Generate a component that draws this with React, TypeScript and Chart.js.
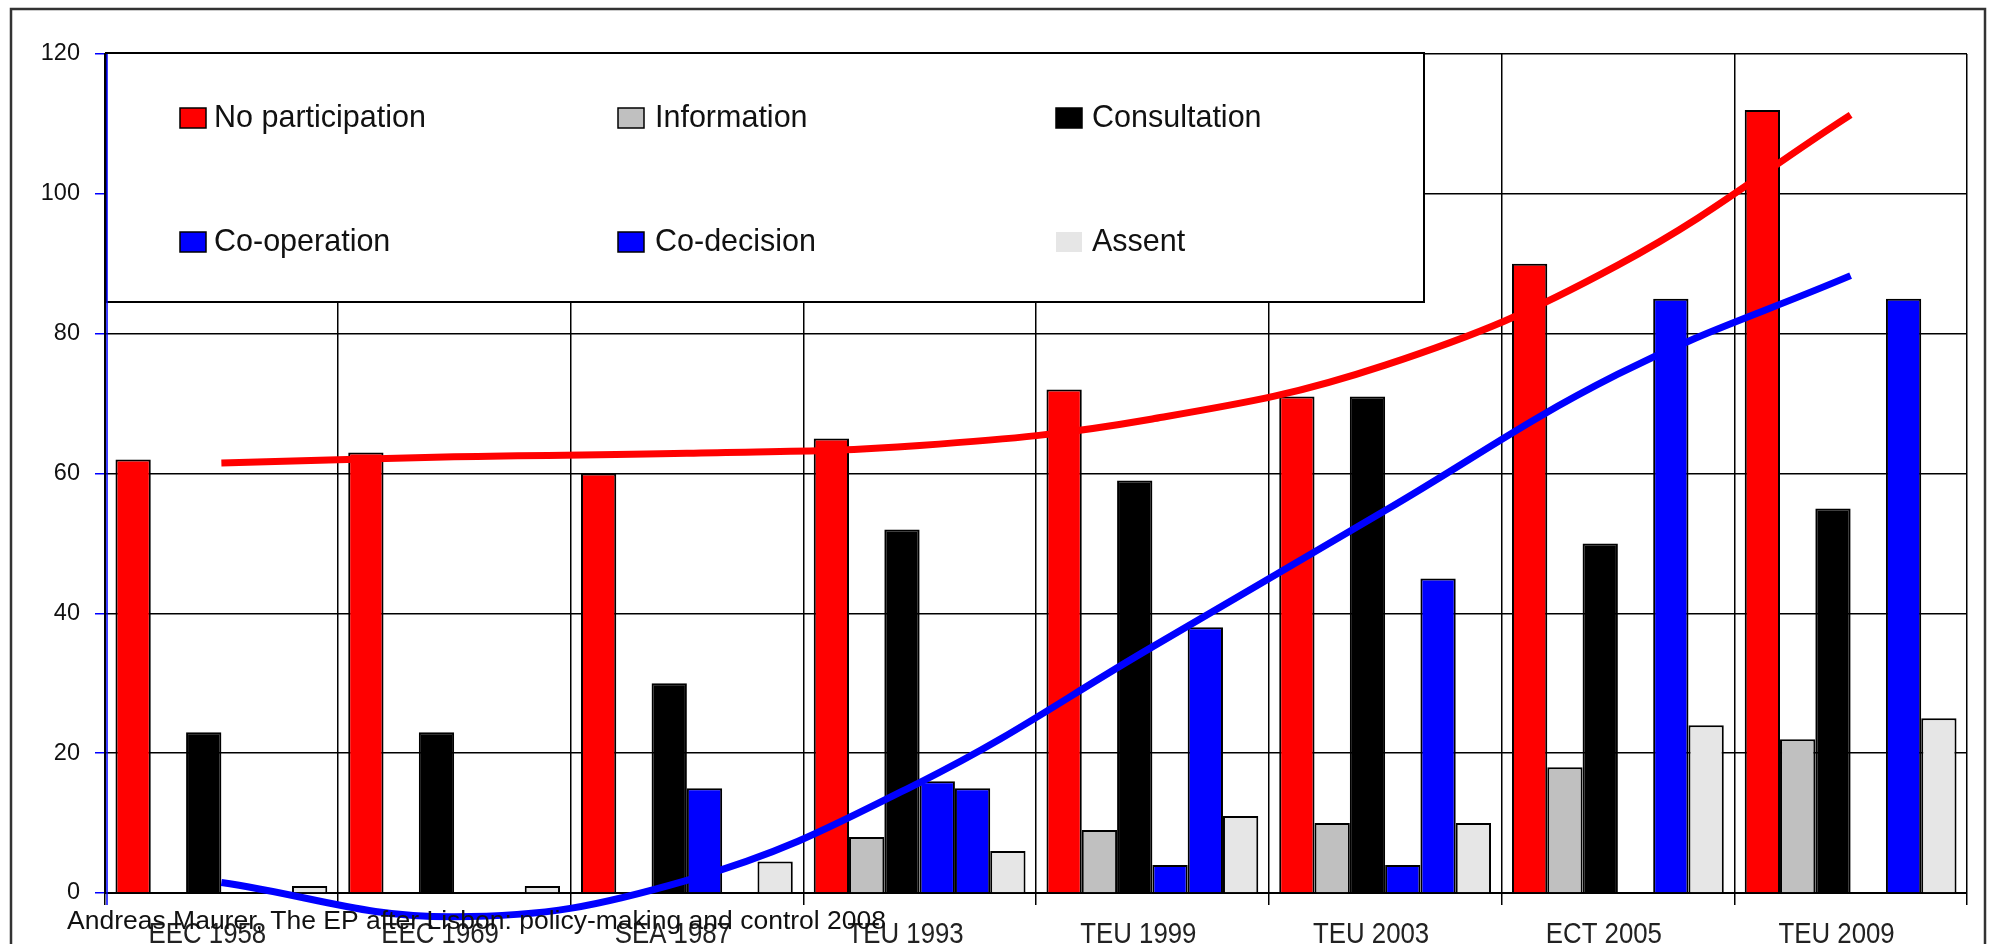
import React, { useEffect, useRef } from "react";
import { Chart, registerables } from "chart.js";

Chart.register(...registerables);

// ---- data ----
const categories = ["EEC 1958", "EEC 1969", "SEA 1987", "TEU 1993", "TEU 1999", "TEU 2003", "ECT 2005", "TEU 2009"];
const seriesNames = ["No participation", "Information", "Consultation", "Co-operation", "Co-decision", "Assent"];
const seriesColors = ["#ff0000", "#c0c0c0", "#000000", "#0000ff", "#0000ff", "#e6e6e6"];
const noParticipation = [62, 63, 60, 65, 72, 71, 90, 112];
const information = [0, 0, 0, 8, 9, 10, 18, 22];
const consultation = [23, 23, 30, 52, 59, 71, 50, 55];
const cooperation = [0, 0, 15, 16, 4, 4, 0, 0];
const codecision = [0, 0, 0, 15, 38, 45, 85, 85];
const assent = [1, 1, 4.5, 6, 11, 10, 24, 25];
const trendNoParticipation = [61.5, 62.4, 62.9, 64.0, 67.8, 75.5, 89.8, 111.3];
const trendCodecision = [1.5, -3.4, 1.8, 15.8, 35.2, 54.7, 74.2, 88.3];
const yTicks = [0, 20, 40, 60, 80, 100, 120];
const footerText = "Andreas Maurer, The EP after Lisbon: policy-making and control 2008";

const barSeries = [noParticipation, information, consultation, cooperation, codecision, assent];

const FONT = "'Liberation Sans', Arial, sans-serif";

const framePlugin = {
  id: "frame",
  beforeDraw(chart: any) {
    const ctx = chart.ctx;
    ctx.save();
    ctx.fillStyle = "#ffffff";
    ctx.fillRect(0, 0, chart.width, chart.height);
    ctx.strokeStyle = "#333333";
    ctx.lineWidth = 2.5;
    ctx.strokeRect(11, 9, 1974, 1000);
    ctx.restore();
  },
};

const legendPlugin = {
  id: "boxLegend",
  beforeDatasetsDraw(chart: any) {
    const ctx = chart.ctx;
    const area = chart.chartArea;
    ctx.save();
    const bx = area.left + 1;
    const by = area.top - 1;
    const bw = 1318;
    const bh = 249;
    ctx.fillStyle = "#ffffff";
    ctx.fillRect(bx, by, bw, bh);
    ctx.strokeStyle = "#000000";
    ctx.lineWidth = 2;
    ctx.strokeRect(bx, by, bw, bh);
    const colX = [180, 618, 1056];
    const textX = [214, 655, 1092];
    const baseY = [127, 251];
    ctx.font = `30.5px ${FONT}`;
    ctx.textBaseline = "alphabetic";
    ctx.textAlign = "left";
    seriesNames.forEach((name, i) => {
      const col = i % 3;
      const row = Math.floor(i / 3);
      const mx = colX[col];
      const my = baseY[row] - 19;
      ctx.fillStyle = seriesColors[i];
      ctx.fillRect(mx, my, 26, 20);
      if (name !== "Assent") {
        ctx.strokeStyle = "#000000";
        ctx.lineWidth = 1.5;
        ctx.strokeRect(mx, my, 26, 20);
      }
      ctx.fillStyle = "#111111";
      ctx.fillText(name, textX[col], baseY[row]);
    });
    // blue inner axis line
    ctx.strokeStyle = "#0000ff";
    ctx.lineWidth = 1.5;
    ctx.beginPath();
    ctx.moveTo(area.left + 2, area.top);
    ctx.lineTo(area.left + 2, area.bottom + 12);
    ctx.stroke();
    ctx.restore();
  },
};

const labelsPlugin = {
  id: "condensedLabels",
  afterDraw(chart: any) {
    const ctx = chart.ctx;
    const xs = chart.scales.x;
    ctx.save();
    ctx.font = `30px ${FONT}`;
    ctx.fillStyle = "#222222";
    ctx.textAlign = "center";
    ctx.textBaseline = "alphabetic";
    categories.forEach((c, i) => {
      const px = xs.getPixelForValue(i) - 14;
      ctx.save();
      ctx.translate(px, 943);
      ctx.scale(0.86, 1);
      ctx.fillText(c, 0, 0);
      ctx.restore();
    });
    // footer on top
    ctx.font = `26.5px ${FONT}`;
    ctx.fillStyle = "#111111";
    ctx.textAlign = "left";
    ctx.fillText(footerText, 67, 929);
    ctx.restore();
  },
};

export default function App() {
  const ref = useRef<HTMLCanvasElement | null>(null);

  useEffect(() => {
    if (!ref.current) return;
    const barDatasets = seriesNames.map((name, i) => ({
      type: "bar" as const,
      label: name,
      data: barSeries[i],
      backgroundColor: seriesColors[i],
      borderColor: "#000000",
      borderWidth: 2,
      categoryPercentage: 0.91,
      barPercentage: 1.0,
      order: 1,
    }));
    const lineDatasets = [
      {
        type: "line" as const,
        label: "Trend No participation",
        data: trendNoParticipation,
        borderColor: "#ff0000",
        borderWidth: 7,
        pointRadius: 0,
        tension: 0.4,
        fill: false,
        clip: false as any,
        order: 0,
      },
      {
        type: "line" as const,
        label: "Trend Co-decision",
        data: trendCodecision,
        borderColor: "#0000ff",
        borderWidth: 7,
        pointRadius: 0,
        tension: 0.4,
        fill: false,
        clip: false as any,
        order: 0,
      },
    ];
    const chart = new Chart(ref.current, {
      data: {
        labels: categories,
        datasets: [...lineDatasets, ...barDatasets] as any,
      },
      options: {
        responsive: false,
        animation: false,
        devicePixelRatio: 1,
        layout: { padding: { left: 0, top: 54, right: 22, bottom: 0 } },
        plugins: {
          legend: { display: false },
          tooltip: { enabled: false },
        },
        scales: {
          x: {
            type: "category",
            offset: true,
            grid: {
              offset: true,
              color: "#000000",
              lineWidth: 1.5,
              tickLength: 12,
              tickColor: "#000000",
            },
            border: { color: "#000000", width: 2 },
            ticks: { display: false, autoSkip: false },
            afterFit: (s: any) => {
              s.height = 51;
            },
          },
          y: {
            min: 0,
            max: 120,
            grid: {
              color: "#000000",
              lineWidth: 1.5,
              tickLength: 10,
              tickColor: "#0000ff",
            },
            border: { color: "#000000", width: 2 },
            ticks: {
              color: "#111111",
              font: { family: FONT, size: 23.5 },
              padding: 15,
            },
            afterBuildTicks: (s: any) => {
              s.ticks = yTicks.map((v) => ({ value: v }));
            },
            afterFit: (s: any) => {
              s.width = 105;
            },
          },
        },
      },
      plugins: [framePlugin, legendPlugin, labelsPlugin],
    } as any);
    return () => chart.destroy();
  }, []);

  return (
    <div style={{ position: "fixed", left: 0, top: 0, width: 1989, height: 944, background: "#fff" }}>
      <canvas ref={ref} width={1989} height={944} style={{ width: 1989, height: 944, display: "block" }} />
    </div>
  );
}
